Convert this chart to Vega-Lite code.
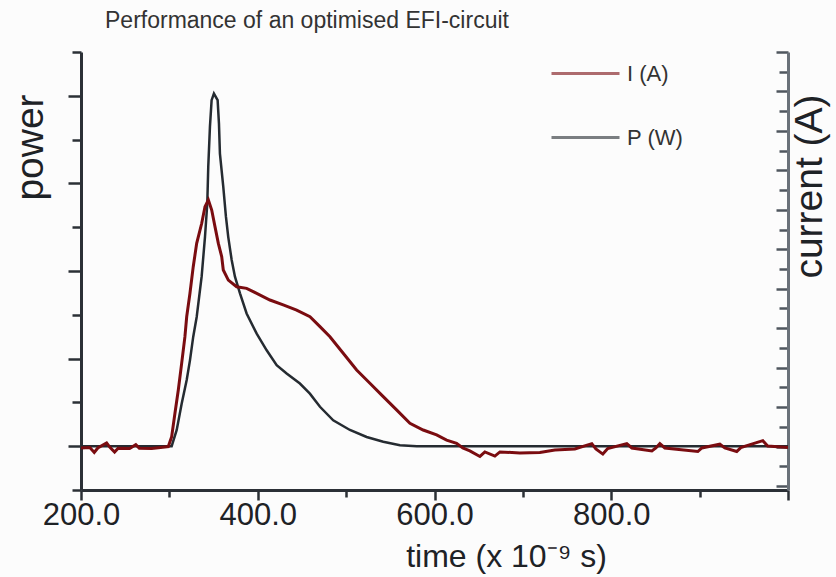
{
  "$schema": "https://vega.github.io/schema/vega-lite/v6.json",
  "width": 707,
  "height": 438,
  "autosize": {"type": "none"},
  "padding": {"left": 81, "top": 52, "right": 48, "bottom": 87},
  "background": "#fcfcfc",
  "title": {
    "text": "Performance of an optimised EFI-circuit",
    "anchor": "start",
    "frame": "group",
    "baseline": "alphabetic",
    "offset": 0,
    "dx": 24,
    "dy": 13,
    "fontSize": 23,
    "font": "Liberation Sans",
    "fontWeight": "normal",
    "color": "#333333"
  },
  "datasets": {
    "power": [
      {"t": 200, "P": 0, "series": "P (W)"},
      {"t": 302.6, "P": 0, "series": "P (W)"},
      {"t": 308.3, "P": 0.37, "series": "P (W)"},
      {"t": 313.9, "P": 0.97, "series": "P (W)"},
      {"t": 319.6, "P": 1.51, "series": "P (W)"},
      {"t": 323.3, "P": 1.96, "series": "P (W)"},
      {"t": 327.0, "P": 2.5, "series": "P (W)"},
      {"t": 330.9, "P": 2.95, "series": "P (W)"},
      {"t": 336.5, "P": 3.87, "series": "P (W)"},
      {"t": 340.3, "P": 4.78, "series": "P (W)"},
      {"t": 342.9, "P": 5.54, "series": "P (W)"},
      {"t": 344.0, "P": 6.38, "series": "P (W)"},
      {"t": 345.9, "P": 7.29, "series": "P (W)"},
      {"t": 347.8, "P": 7.9, "series": "P (W)"},
      {"t": 350.4, "P": 8.05, "series": "P (W)"},
      {"t": 354.6, "P": 7.9, "series": "P (W)"},
      {"t": 356.1, "P": 7.37, "series": "P (W)"},
      {"t": 357.2, "P": 6.68, "series": "P (W)"},
      {"t": 361.0, "P": 5.92, "series": "P (W)"},
      {"t": 364.0, "P": 5.24, "series": "P (W)"},
      {"t": 366.6, "P": 4.78, "series": "P (W)"},
      {"t": 370.5, "P": 4.25, "series": "P (W)"},
      {"t": 374.2, "P": 3.87, "series": "P (W)"},
      {"t": 379.9, "P": 3.49, "series": "P (W)"},
      {"t": 387.4, "P": 3.03, "series": "P (W)"},
      {"t": 398.8, "P": 2.57, "series": "P (W)"},
      {"t": 410.1, "P": 2.19, "series": "P (W)"},
      {"t": 421.4, "P": 1.85, "series": "P (W)"},
      {"t": 432.7, "P": 1.66, "series": "P (W)"},
      {"t": 447.7, "P": 1.43, "series": "P (W)"},
      {"t": 459.0, "P": 1.2, "series": "P (W)"},
      {"t": 470.4, "P": 0.9, "series": "P (W)"},
      {"t": 485.4, "P": 0.59, "series": "P (W)"},
      {"t": 504.3, "P": 0.37, "series": "P (W)"},
      {"t": 523.2, "P": 0.21, "series": "P (W)"},
      {"t": 542.0, "P": 0.1, "series": "P (W)"},
      {"t": 560.9, "P": 0.02, "series": "P (W)"},
      {"t": 580, "P": 0, "series": "P (W)"},
      {"t": 1000, "P": 0, "series": "P (W)"}
    ],
    "current": [
      {"t": 200, "I": -0.07, "series": "I (A)"},
      {"t": 210, "I": -0.05, "series": "I (A)"},
      {"t": 215, "I": -0.3, "series": "I (A)"},
      {"t": 219, "I": -0.07, "series": "I (A)"},
      {"t": 229, "I": 0.18, "series": "I (A)"},
      {"t": 233, "I": -0.05, "series": "I (A)"},
      {"t": 238, "I": -0.28, "series": "I (A)"},
      {"t": 242, "I": -0.08, "series": "I (A)"},
      {"t": 255, "I": -0.1, "series": "I (A)"},
      {"t": 262, "I": 0.1, "series": "I (A)"},
      {"t": 266, "I": -0.08, "series": "I (A)"},
      {"t": 280, "I": -0.1, "series": "I (A)"},
      {"t": 290, "I": -0.05, "series": "I (A)"},
      {"t": 298.8, "I": 0.0, "series": "I (A)"},
      {"t": 302.6, "I": 0.5, "series": "I (A)"},
      {"t": 306.3, "I": 1.69, "series": "I (A)"},
      {"t": 310.1, "I": 2.87, "series": "I (A)"},
      {"t": 313.9, "I": 4.22, "series": "I (A)"},
      {"t": 317.6, "I": 5.57, "series": "I (A)"},
      {"t": 319.6, "I": 6.58, "series": "I (A)"},
      {"t": 323.3, "I": 7.77, "series": "I (A)"},
      {"t": 327.0, "I": 9.12, "series": "I (A)"},
      {"t": 330.9, "I": 10.3, "series": "I (A)"},
      {"t": 336.6, "I": 11.32, "series": "I (A)"},
      {"t": 340.3, "I": 12.16, "series": "I (A)"},
      {"t": 344.1, "I": 12.5, "series": "I (A)"},
      {"t": 347.9, "I": 11.99, "series": "I (A)"},
      {"t": 351.6, "I": 11.15, "series": "I (A)"},
      {"t": 355.4, "I": 10.3, "series": "I (A)"},
      {"t": 359.2, "I": 9.63, "series": "I (A)"},
      {"t": 361.0, "I": 8.95, "series": "I (A)"},
      {"t": 366.7, "I": 8.44, "series": "I (A)"},
      {"t": 376.1, "I": 8.1, "series": "I (A)"},
      {"t": 387.4, "I": 8.02, "series": "I (A)"},
      {"t": 398.8, "I": 7.77, "series": "I (A)"},
      {"t": 413.8, "I": 7.43, "series": "I (A)"},
      {"t": 428.8, "I": 7.18, "series": "I (A)"},
      {"t": 444.0, "I": 6.92, "series": "I (A)"},
      {"t": 459.1, "I": 6.58, "series": "I (A)"},
      {"t": 470.4, "I": 6.08, "series": "I (A)"},
      {"t": 481.7, "I": 5.57, "series": "I (A)"},
      {"t": 496.7, "I": 4.73, "series": "I (A)"},
      {"t": 511.9, "I": 3.88, "series": "I (A)"},
      {"t": 526.9, "I": 3.21, "series": "I (A)"},
      {"t": 542.0, "I": 2.53, "series": "I (A)"},
      {"t": 557.1, "I": 1.86, "series": "I (A)"},
      {"t": 572.2, "I": 1.18, "series": "I (A)"},
      {"t": 587.2, "I": 0.84, "series": "I (A)"},
      {"t": 602.4, "I": 0.59, "series": "I (A)"},
      {"t": 613.7, "I": 0.33, "series": "I (A)"},
      {"t": 625.0, "I": 0.17, "series": "I (A)"},
      {"t": 632, "I": -0.07, "series": "I (A)"},
      {"t": 640, "I": -0.22, "series": "I (A)"},
      {"t": 651.4, "I": -0.5, "series": "I (A)"},
      {"t": 657, "I": -0.27, "series": "I (A)"},
      {"t": 668.3, "I": -0.48, "series": "I (A)"},
      {"t": 674, "I": -0.27, "series": "I (A)"},
      {"t": 696.6, "I": -0.32, "series": "I (A)"},
      {"t": 719.2, "I": -0.3, "series": "I (A)"},
      {"t": 736.2, "I": -0.17, "series": "I (A)"},
      {"t": 758.8, "I": -0.12, "series": "I (A)"},
      {"t": 778, "I": 0.15, "series": "I (A)"},
      {"t": 782.6, "I": -0.12, "series": "I (A)"},
      {"t": 790.5, "I": -0.38, "series": "I (A)"},
      {"t": 796, "I": -0.1, "series": "I (A)"},
      {"t": 817.6, "I": 0.15, "series": "I (A)"},
      {"t": 823.3, "I": -0.07, "series": "I (A)"},
      {"t": 846, "I": -0.22, "series": "I (A)"},
      {"t": 850.5, "I": -0.07, "series": "I (A)"},
      {"t": 855, "I": 0.15, "series": "I (A)"},
      {"t": 860.6, "I": -0.07, "series": "I (A)"},
      {"t": 898, "I": -0.25, "series": "I (A)"},
      {"t": 902.5, "I": -0.07, "series": "I (A)"},
      {"t": 922.9, "I": 0.12, "series": "I (A)"},
      {"t": 928.5, "I": -0.07, "series": "I (A)"},
      {"t": 942, "I": -0.25, "series": "I (A)"},
      {"t": 946.6, "I": -0.05, "series": "I (A)"},
      {"t": 971.5, "I": 0.3, "series": "I (A)"},
      {"t": 977, "I": 0.03, "series": "I (A)"},
      {"t": 1000, "I": -0.05, "series": "I (A)"}
    ]
  },
  "layer": [
    {
      "data": {"name": "power"},
      "mark": {"type": "line", "strokeWidth": 2.5, "clip": true},
      "encoding": {
        "x": {
          "field": "t",
          "type": "quantitative",
          "scale": {"domain": [200, 1000], "nice": false, "zero": false},
          "axis": {
            "values": [200, 300, 400, 500, 600, 700, 800, 900, 1000],
            "labelExpr": "datum.value % 200 === 0 && datum.value < 1000 ? format(datum.value, '.1f') : ''",
            "tickSize": {"condition": {"test": "datum.value % 200 === 0", "value": 10}, "value": 7},
            "labelPadding": 0,
            "labelFontSize": 31,
            "labelFlush": false,
            "title": "time (x 10⁻⁹ s)",
            "titleFontSize": 32,
            "titleX": 425,
            "titleY": 76,
            "titleAlign": "center",
            "titleBaseline": "alphabetic",
            "titleAngle": 0
          }
        },
        "y": {
          "field": "P",
          "type": "quantitative",
          "scale": {"domain": [-1, 9], "nice": false, "zero": false},
          "axis": {
            "values": [-1, 0, 1, 2, 3, 4, 5, 6, 7, 8, 9],
            "labels": false,
            "tickSize": {"condition": {"test": "datum.value % 2 === 0", "value": 13}, "value": 9},
            "title": "power",
            "titleFontSize": 39,
            "titleAngle": 270,
            "titleX": -39,
            "titleY": 95,
            "titleAlign": "center",
            "titleBaseline": "alphabetic"
          }
        },
        "color": {
          "field": "series",
          "type": "nominal",
          "scale": {"domain": ["I (A)", "P (W)"], "range": ["#7a0c10", "#252b31"]},
          "legend": {
            "orient": "none",
            "legendX": 469,
            "legendY": -14,
            "title": null,
            "symbolType": "stroke",
            "symbolSize": 4624,
            "symbolStrokeWidth": 3,
            "symbolOpacity": 0.6,
            "labelFontSize": 22,
            "labelFont": "Liberation Sans",
            "labelColor": "#333333",
            "labelOffset": 6,
            "rowPadding": 17,
            "padding": 0
          }
        }
      }
    },
    {
      "data": {"name": "current"},
      "mark": {"type": "line", "strokeWidth": 3, "clip": true},
      "encoding": {
        "x": {"field": "t", "type": "quantitative"},
        "y": {
          "field": "I",
          "type": "quantitative",
          "scale": {"domain": [-2.2, 20], "nice": false, "zero": false},
          "axis": {
            "orient": "right",
            "values": [-2, -1, 0, 1, 2, 3, 4, 5, 6, 7, 8, 9, 10, 11, 12, 13, 14, 15, 16, 17, 18, 19, 20],
            "labels": false,
            "tickSize": {"condition": {"test": "datum.value % 2 === 0", "value": -12}, "value": -9},
            "domainColor": "#6a7179",
            "tickColor": "#4f565e",
            "title": "current (A)",
            "titleFontSize": 39,
            "titleAngle": 270,
            "titleX": 33,
            "titleY": 134,
            "titleAlign": "center",
            "titleBaseline": "alphabetic"
          }
        },
        "color": {"field": "series", "type": "nominal"}
      }
    }
  ],
  "resolve": {"scale": {"y": "independent"}},
  "config": {
    "view": {"stroke": null},
    "font": "Liberation Sans",
    "axis": {
      "grid": false,
      "domainColor": "#2b3036",
      "domainWidth": 3,
      "tickColor": "#2b3036",
      "tickWidth": 2.5,
      "labelFont": "Liberation Sans",
      "labelColor": "#1e2226",
      "titleFont": "Liberation Sans",
      "titleColor": "#1e2226",
      "titleFontWeight": "normal"
    }
  }
}
